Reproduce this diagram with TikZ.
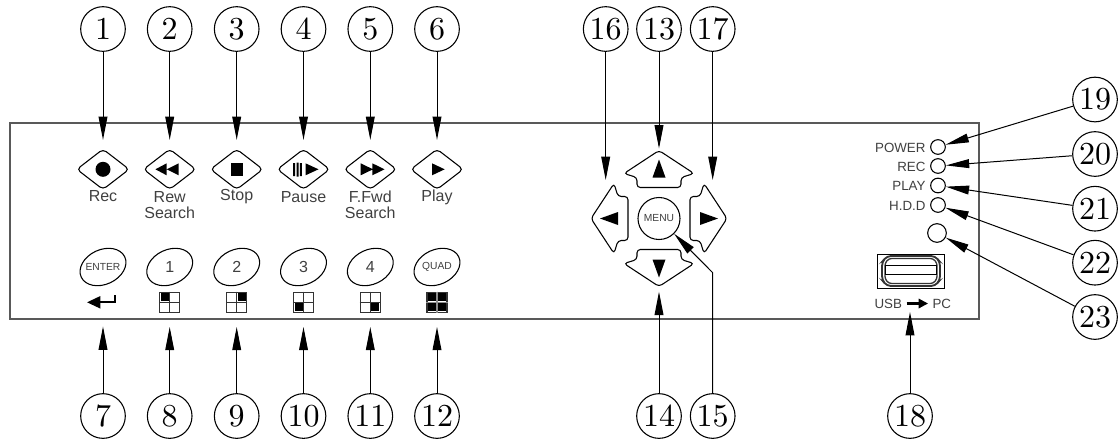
\documentclass[tikz,border=0pt]{standalone}
\usepackage{graphicx}
\usepackage{fontspec}
\newfontfamily\panelfont{Liberation Sans}
\usetikzlibrary{arrows.meta,shapes.geometric}

\newcommand{\callnum}[1]{\scalebox{2.4}{\fontsize{10}{12}\selectfont #1}}

\tikzset{every picture/.style={line width=0.75pt}}
\tikzset{
  panelline/.style={draw=black!65,line width=1.1pt},
  callout/.style={circle,draw=black,line width=0.8pt,minimum size=33.5pt,inner sep=0pt},
  pointer/.style={line width=0.75pt,-{Triangle[length=17.5pt,width=6.6pt]}},
  playkey/.style={diamond,draw=black,line width=0.8pt,rounded corners=3pt,minimum width=39.5pt,minimum height=30.5pt,inner sep=0pt},
  softkey/.style={ellipse,draw=black,line width=0.8pt,rotate=25,minimum width=36pt,minimum height=26pt,inner sep=0pt},
  keytext/.style={text=black!75,inner sep=0pt,align=center,font=\panelfont\fontsize{12}{12}\selectfont},
  smalltext/.style={text=black!75,inner sep=0pt,font=\panelfont\fontsize{7.7}{8}\selectfont},
  ledtext/.style={text=black!75,inner sep=0pt,font=\panelfont\fontsize{10}{10}\selectfont},
  led/.style={circle,draw=black,line width=0.8pt,inner sep=0pt,minimum size=11pt},
  gridicon/.style={rectangle,draw=black!80,line width=0.9pt,minimum size=15pt,inner sep=0pt},
  navkey/.pic={
    \draw[black,line width=0.8pt,rounded corners=2.5pt] (-22,-31) -- (22,-31) -- (22,-41) -- (35,-45) -- (0,-68) -- (-35,-45) -- (-22,-41) -- cycle;
    \fill[black] (0,-59) -- (6.5,-41) -- (-6.5,-41) -- cycle;
  }
}

\begin{document}
\begin{tikzpicture}[x=0.75pt,y=0.75pt,yscale=-1,xscale=1]
\useasboundingbox (0,0) rectangle (1120,444);

%Shape: Panel
\draw [panelline] (10,123) rectangle (979,319);

%Shape: Play Keys
\foreach \keyname/\keyx in {rec/103,rew/169.7,stop/236.7,pause/303.5,ffwd/370.3,play/437}{
  \node [playkey] (\keyname) at (\keyx,169.3) {};
}
% Text Node
\node [keytext] (txtrec) at (103,196) {Rec};
\node [keytext] (txtrew) at (169.7,205) {Rew\\Search};
\node [keytext] (txtstop) at (236.7,197) {Stop};
\node [keytext] (txtpause) at (303.5,197) {Pause};
\node [keytext] (txtffwd) at (370.3,205) {F.Fwd\\Search};
\node [keytext] (txtplay) at (437,197) {Play};

%Key Glyphs
\fill (103,169.3) circle [radius=7.5];
\fill (155.4,169.3) -- (166.7,163.3) -- (166.7,175.3) -- cycle (166.7,169.3) -- (178.7,163.3) -- (178.7,175.3) -- cycle;
\fill (230.5,163) rectangle (242.9,175.6);
\fill (293.2,163) rectangle (295.2,176) (296.5,162.5) rectangle (298.5,176.5) (299.8,163) rectangle (301.8,176);
\fill (305.5,163.3) -- (318.5,169.3) -- (305.5,175.3) -- cycle;
\fill (360.6,163.3) -- (373,169.3) -- (360.6,175.3) -- cycle (372.3,163.3) -- (384.6,169.3) -- (372.3,175.3) -- cycle;
\fill (432,163.3) -- (444.7,169.3) -- (432,175.3) -- cycle;

%Shape: Soft Keys
\node [softkey] (keyenter) at (103,267) {};
\node [softkey] (keyone) at (169.7,267) {};
\node [softkey] (keytwo) at (236.7,267) {};
\node [softkey] (keythree) at (303.5,267) {};
\node [softkey] (keyfour) at (370.3,267) {};
\node [softkey] (keyquad) at (437,267) {};
% Text Node
\node [smalltext] at (keyenter) {ENTER};
\node [keytext] at (keyone) {1};
\node [keytext] at (keytwo) {2};
\node [keytext] at (keythree) {3};
\node [keytext] at (keyfour) {4};
\node [smalltext] at (keyquad) {QUAD};

%Shape: Enter Icon
\node [inner sep=0pt,minimum width=21pt,minimum height=10.5pt] (iconenter) at (103,302) {};
\draw [line width=1.5pt,-{Triangle[length=10pt,width=9pt]}] (114.5,295) -- (114.5,302.3) -- (87,302.3);

%Shape: Split Icons
\foreach \iconname/\iconx in {iconone/169.7,icontwo/236.7,iconthree/303.5,iconfour/370.3,iconquad/437}{
  \node [gridicon] (\iconname) at (\iconx,302.3) {};
  \draw [black!80,line width=0.8pt] (\iconname.north) -- (\iconname.south) (\iconname.west) -- (\iconname.east);
}
\fill (160.7,293.3) rectangle (168.7,301.3);
\fill (237.7,293.3) rectangle (245.7,301.3);
\fill (294.5,303.3) rectangle (302.5,311.3);
\fill (371.3,303.3) rectangle (379.3,311.3);
\foreach \qx/\qy in {-9/-9,1/-9,-9/1,1/1}{
  \fill (437+\qx,302.3+\qy) rectangle ++(8,8);
}
\draw [black!45,line width=0.9pt] (iconquad.north) -- (iconquad.south) (iconquad.west) -- (iconquad.east);

%Shape: Navigation Keys
\node [circle,draw=black,line width=0.8pt,minimum size=31.5pt,inner sep=0pt,text=black!75,font=\panelfont\fontsize{7.7}{8}\selectfont] (menu) at (659,218.5) {MENU};
\foreach \turn in {0,90,180,270}{
  \pic [rotate=\turn] at (menu.center) {navkey};
}
\coordinate (navup) at (659,148.5);
\coordinate (navdown) at (659,291.7);
\coordinate (navleft) at (605.7,180);
\coordinate (navright) at (712.7,180);
\coordinate (bend) at (712.7,272.7);

%Shape: Indicators
\node [led] (ledpower) at (938,147) {};
\node [led] (ledrec) at (938,166) {};
\node [led] (ledplay) at (938,185.5) {};
\node [led] (ledhdd) at (938,205) {};
\node [led,minimum size=14pt] (ledaux) at (937,233) {};
% Text Node
\node [ledtext,anchor=east] at (926,147.5) {POWER};
\node [ledtext,anchor=east] at (926,166.5) {REC};
\node [ledtext,anchor=east] at (926,186) {PLAY};
\node [ledtext,anchor=east] at (926,205.5) {H.D.D};

%Shape: USB Socket
\draw [line width=0.7pt] (877.5,254) rectangle (944,288);
\draw [black!80,line width=1.4pt,rounded corners=3pt] (882,262) -- (887,256) -- (935,256) -- (940,262) -- (940,280) -- (935,286) -- (887,286) -- (882,280) -- cycle;
\draw [black!80,line width=1pt,rounded corners=2pt] (885,263) -- (889,258.5) -- (933,258.5) -- (937,263) -- (937,279) -- (933,283.5) -- (889,283.5) -- (885,279) -- cycle;
\draw [fill=white,line width=1.2pt] (885.5,265.5) rectangle (936.5,274.5);
% Text Node
\node [ledtext,anchor=east] (usbtxt) at (902.5,303.5) {USB};
\node [ledtext,anchor=west] (pctxt) at (932,303.5) {PC};
\draw [line width=1.6pt,-{Triangle[length=7pt,width=7pt]}] (usbtxt.east) ++(4,0) -- ++(21.5,0);
\coordinate (usbfoot) at (910,312);

%Callouts
\foreach \num/\numx/\numy in {1/103/29,2/169.7/29,3/236.7/29,4/303.5/29,5/370.3/29,6/437/29,7/103/416,8/169.7/416,9/236.7/416,10/303.5/416,11/370.3/416,12/437/416,13/659/29,14/659/416,15/712.7/416,16/605.7/29,17/712.7/29,18/910/416,19/1095/99.5,20/1095/154,21/1095/208.7,22/1095/262.7,23/1095/317}{
  \node [callout] (n\num) at (\numx,\numy) {\callnum{\num}};
}

%Straight Lines
\foreach \from/\to in {1/rec,2/rew,3/stop,4/pause,5/ffwd,6/play}{
  \draw [pointer,shorten >=6.4pt] (n\from) -- (\to);
}
\draw [pointer,shorten >=12.75pt] (n7) -- (iconenter);
\foreach \from/\to in {8/iconone,9/icontwo,10/iconthree,11/iconfour,12/iconquad}{
  \draw [pointer,shorten >=10.5pt] (n\from) -- (\to);
}
\draw [pointer] (n13) -- (navup);
\draw [pointer] (n14) -- (navdown);
\draw [pointer] (n15) -- (bend) -- (menu);
\draw [pointer] (n16) -- (navleft);
\draw [pointer] (n17) -- (navright);
\draw [pointer] (n18) -- (usbfoot);
\draw [pointer] (n19) -- (ledpower);
\draw [pointer] (n20) -- (ledrec);
\draw [pointer] (n21) -- (ledplay);
\draw [pointer] (n22) -- (ledhdd);
\draw [pointer] (n23) -- (ledaux);

\end{tikzpicture}
\end{document}
